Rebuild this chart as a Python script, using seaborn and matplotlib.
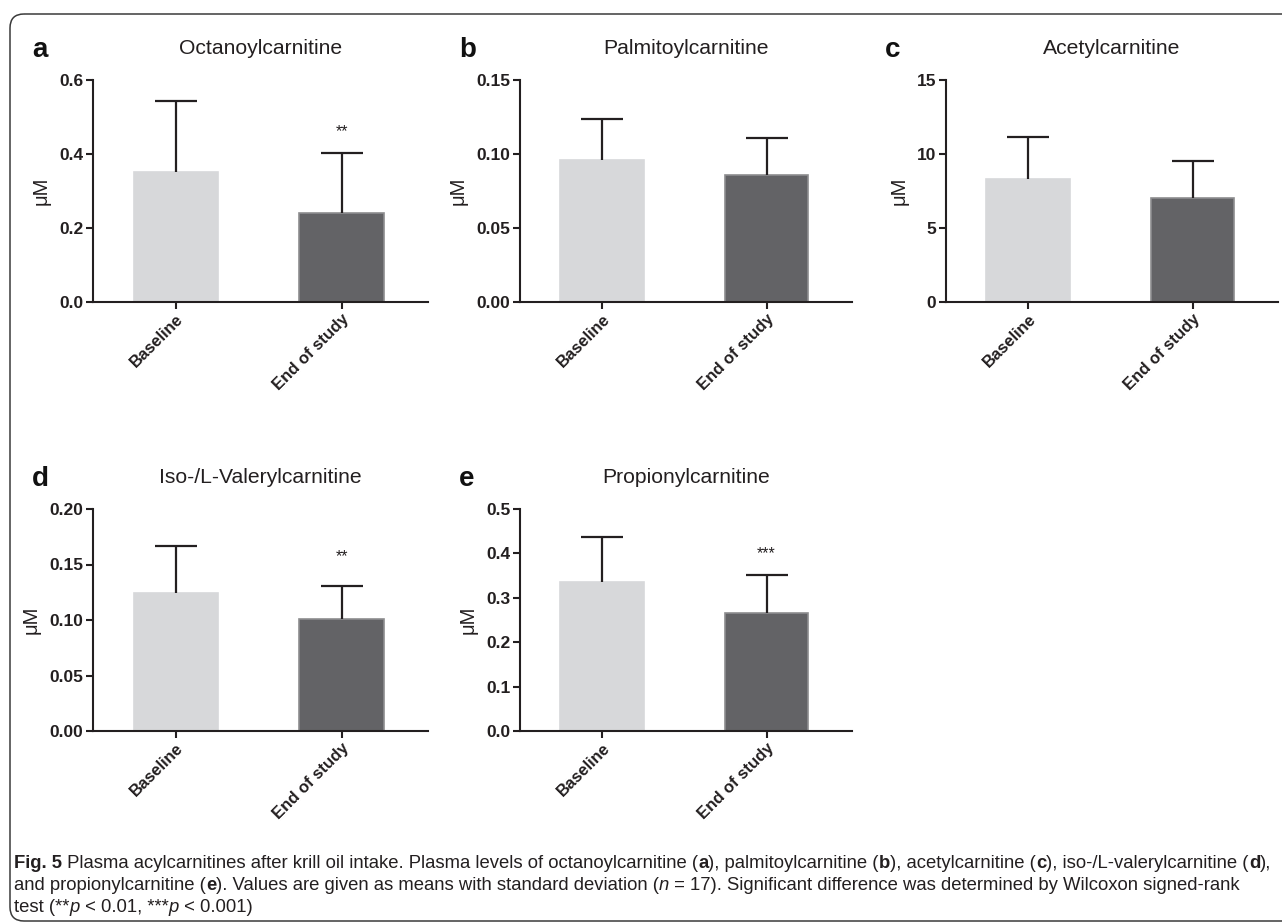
import matplotlib
matplotlib.use("Agg")
import matplotlib.pyplot as plt
from matplotlib import font_manager
from matplotlib.patches import FancyBboxPatch
import seaborn as sns
import pandas as pd

# ---------------- data ----------------
groups = ["Baseline", "End of study"]
panel_letters = ["a", "b", "c", "d", "e"]
titles = ["Octanoylcarnitine", "Palmitoylcarnitine", "Acetylcarnitine",
          "Iso-/L-Valerylcarnitine", "Propionylcarnitine"]
means_a = [0.351, 0.241]
sd_a = [0.192, 0.161]
means_b = [0.0960, 0.0858]
sd_b = [0.0275, 0.0250]
means_c = [8.31, 7.03]
sd_c = [2.86, 2.50]
means_d = [0.1247, 0.1013]
sd_d = [0.0422, 0.0297]
means_e = [0.336, 0.265]
sd_e = [0.101, 0.087]
yticks_a = [0.0, 0.2, 0.4, 0.6]
yticks_b = [0.00, 0.05, 0.10, 0.15]
yticks_c = [0, 5, 10, 15]
yticks_d = [0.00, 0.05, 0.10, 0.15, 0.20]
yticks_e = [0.0, 0.1, 0.2, 0.3, 0.4, 0.5]
ytickfmt = ["{:.1f}", "{:.2f}", "{:.0f}", "{:.2f}", "{:.1f}"]
stars = ["**", "", "", "**", "***"]
star_y = [0.46, None, None, 0.157, 0.400]

sns.set_theme(style="ticks")
plt.rcParams["font.family"] = ["Liberation Sans", "DejaVu Sans"]

W, H = 1282, 923
fig = plt.figure(figsize=(W / 100, H / 100), dpi=100)
fig.patch.set_facecolor("white")

# background axes in pixel coordinates for the frame
bg = fig.add_axes([0, 0, 1, 1], zorder=-5)
bg.set_xlim(0, W)
bg.set_ylim(H, 0)
bg.axis("off")
bg.add_patch(FancyBboxPatch((10, 14), 1320, 907,
                            boxstyle="round,pad=0,rounding_size=14",
                            fill=False, edgecolor="#3a3a3a", linewidth=1.1,
                            clip_on=False))

ink = "#231f20"
light = "#d7d8da"
dark = "#636366"

# axes positions in pixels (left, right, top, bottom)
boxes = [(93, 428, 80, 302), (520, 852, 80, 302), (946, 1278, 80, 302),
         (93, 428, 509, 731), (520, 852, 509, 731)]
means_all = [means_a, means_b, means_c, means_d, means_e]
sds_all = [sd_a, sd_b, sd_c, sd_d, sd_e]
yticks_all = [yticks_a, yticks_b, yticks_c, yticks_d, yticks_e]

for i in range(5):
    l, r, t, b = boxes[i]
    ax = fig.add_axes([l / W, 1 - b / H, (r - l) / W, (b - t) / H])
    df = pd.DataFrame({"group": groups, "value": means_all[i]})
    sns.barplot(data=df, x="group", y="value", hue="group",
                palette=[light, dark], width=0.51, errorbar=None,
                legend=False, ax=ax, linewidth=1.2, saturation=1)
    for p, ec in zip(ax.patches, [light, "#8d8d8f"]):
        p.set_edgecolor(ec)
    eb = ax.errorbar(x=[0, 1], y=means_all[i],
                     yerr=[[0, 0], sds_all[i]], fmt="none", ecolor=ink,
                     elinewidth=1.6, capsize=15, capthick=1.6, zorder=5)
    caplines = eb.lines[1]
    if len(caplines) == 2:
        caplines[0].set_visible(False)
    yt = yticks_all[i]
    ax.set_ylim(yt[0], yt[-1])
    ax.set_yticks(yt)
    ax.set_yticklabels([ytickfmt[i].format(v) for v in yt],
                       fontsize=12.5, fontweight="bold", color=ink)
    ax.set_xlim(-0.5, 1.52)
    ax.set_xticks([0, 1])
    ax.set_xticklabels(groups, rotation=45, ha="right",
                       rotation_mode="anchor", fontsize=12,
                       fontweight="bold", color=ink)
    ax.set_xlabel("")
    ax.set_ylabel("μM", fontsize=14.5, color=ink, labelpad=6)
    for s in ["top", "right"]:
        ax.spines[s].set_visible(False)
    for s in ["left", "bottom"]:
        ax.spines[s].set_linewidth(1.5)
        ax.spines[s].set_color(ink)
    ax.tick_params(axis="both", width=1.5, length=5, color=ink, pad=2)
    ax.set_facecolor("none")
    if stars[i]:
        ax.text(1, star_y[i], stars[i], ha="center", va="center",
                fontsize=11.5, color=ink)
    # title and panel letter
    fig.text((l + r) / 2 / W, 1 - 48 / H if i < 3 else 1 - 477 / H,
             titles[i], ha="center", va="center", fontsize=15.2, color=ink)
    fig.text((l - 61) / W, 1 - (57 if i < 3 else 486) / H, panel_letters[i],
             ha="left", va="baseline", fontsize=20, fontweight="bold",
             color="#111111")

# ---------------- caption ----------------
avail = {f.name for f in font_manager.fontManager.ttflist}
cap_family = "Liberation Sans Narrow" if "Liberation Sans Narrow" in avail else "Liberation Sans"

line1 = [("Fig. 5", "bold", "normal"),
         (" Plasma acylcarnitines after krill oil intake. Plasma levels of octanoylcarnitine (", "normal", "normal"),
         ("a", "bold", "normal"), ("), palmitoylcarnitine (", "normal", "normal"),
         ("b", "bold", "normal"), ("), acetylcarnitine (", "normal", "normal"),
         ("c", "bold", "normal"), ("), iso-/L-valerylcarnitine (", "normal", "normal"),
         ("d", "bold", "normal"), ("),", "normal", "normal")]
line2 = [("and propionylcarnitine (", "normal", "normal"), ("e", "bold", "normal"),
         ("). Values are given as means with standard deviation (", "normal", "normal"),
         ("n", "normal", "italic"),
         (" = 17). Significant difference was determined by Wilcoxon signed-rank", "normal", "normal")]
line3 = [("test (**", "normal", "normal"), ("p", "normal", "italic"),
         (" < 0.01, ***", "normal", "normal"), ("p", "normal", "italic"),
         (" < 0.001)", "normal", "normal")]

fig.canvas.draw()
renderer = fig.canvas.get_renderer()


def adv(s, weight, style, size):
    prop = font_manager.FontProperties(family=[cap_family, "DejaVu Sans"],
                                       weight=weight, style=style, size=size)
    w1, _, _ = renderer.get_text_width_height_descent(s + "x", prop, ismath=False)
    w2, _, _ = renderer.get_text_width_height_descent("x", prop, ismath=False)
    return w1 - w2


def line_width(runs, size):
    return sum(adv(s, w, st, size) for s, w, st in runs)


size = 12.5
target = 1262
lw = line_width(line1, size)
size = size * target / lw


def draw_line(runs, x0, ypix, size):
    x = x0
    for s, w, st in runs:
        fig.text(x / W, 1 - ypix / H, s, fontsize=size, fontweight=w,
                 fontstyle=st, family=[cap_family, "DejaVu Sans"],
                 ha="left", va="baseline", color=ink)
        x += adv(s, w, st, size)


draw_line(line1, 14, 868, size)
draw_line(line2, 14, 890, size)
draw_line(line3, 14, 912, size)

fig.savefig("out.png", dpi=100, facecolor="white")
